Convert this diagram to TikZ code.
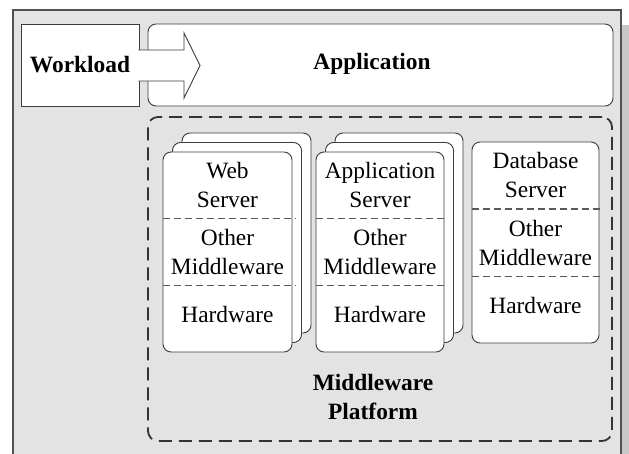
\documentclass[tikz,border=0pt]{standalone}
\usepackage{fontspec}
\setmainfont{Liberation Serif}
\usepackage{tikz}
\usetikzlibrary{positioning,calc,shadows}
\definecolor{frame}{HTML}{505050}
\definecolor{panel}{HTML}{E3E3E3}
\definecolor{edge}{HTML}{3C3C3C}
\tikzset{
  box/.style={draw=edge, fill=white, line width=0.9pt, rounded corners=8pt, inner sep=0pt},
  stack/.style={box,
    copy shadow={shadow xshift=19pt, shadow yshift=19pt, draw=edge, fill=white},
    copy shadow={shadow xshift=9.5pt, shadow yshift=9.5pt, draw=edge, fill=white}},
  divider/.style={draw=edge!85, dash pattern=on 7pt off 4pt, line width=1.3pt},
  lbl/.style={font=\fontsize{23.4}{29}\selectfont, align=center, inner sep=0pt, text=black},
  lblb/.style={lbl, font=\fontsize{23.4}{29}\selectfont\bfseries},
}

\begin{document}
\begin{tikzpicture}[x=1pt, y=-1pt]
\useasboundingbox (0,0) rectangle (629,453);
% frame
\fill[black!22] (622,25) rectangle (629,470);
\draw[frame, fill=panel, line width=1.2pt] (13,10) rectangle (621,470);
% workload and application
\node[box, rounded corners=0pt, minimum width=118pt, minimum height=82pt, lblb, draw=edge, fill=white] (work) at (80,65) {Workload};
\node[box, minimum width=465pt, minimum height=82pt, lblb, draw=edge, fill=white] (app) at (380.5,65) {};
\node[lblb] (applbl) at (372,64) {Application};
\draw[edge, fill=white, line width=0.9pt, line join=miter] ([xshift=-1pt, yshift=15pt]work.east) -- (184,50) -- (184,33) -- (200,65.5) -- (184,98) -- (184,81) -- ([xshift=-1pt, yshift=-16pt]work.east);
% middleware platform
\node[draw=black!80, dash pattern=on 13pt off 7pt, line width=1.8pt, rounded corners=10pt, minimum width=464pt, minimum height=324pt] (platform) at (380,279) {};
\node[lblb] (platlbl) at (373,397) {Middleware\\Platform};
% servers
\node[stack, minimum width=129pt, minimum height=200pt] (web) at (227.5,252) {};
\node[stack, minimum width=128pt, minimum height=200pt] (appsrv) at (380,252) {};
\node[box, minimum width=127pt, minimum height=201pt] (db) at (535.5,242.5) {};
\foreach \s in {web,appsrv,db} {
  \draw[divider] ($(\s.north west)!1/3!(\s.south west)$) -- ($(\s.north east)!1/3!(\s.south east)+(3,0)$);
  \draw[divider] ($(\s.north west)!2/3!(\s.south west)$) -- ($(\s.north east)!2/3!(\s.south east)+(3,0)$);
  \node[lbl] (\s other) at ($(\s.north)!1/2!(\s.south)$) {Other\\Middleware};
  \node[lbl] (\s hw) at ($(\s.north)!5/6!(\s.south)+(0,-4)$) {Hardware};
}
\node[lbl] (webname) at ($(web.north)!1/6!(web.south)$) {Web\\Server};
\node[lbl] (appname) at ($(appsrv.north)!1/6!(appsrv.south)$) {Application\\Server};
\node[lbl] (dbname) at ($(db.north)!1/6!(db.south)$) {Database\\Server};
\end{tikzpicture}
\end{document}
